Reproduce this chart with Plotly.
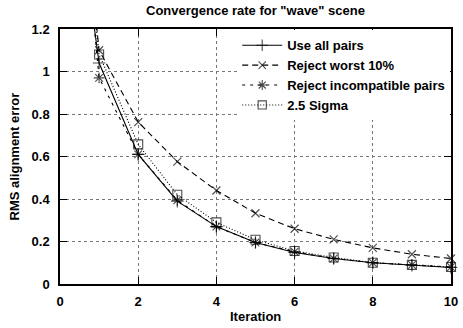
import plotly.graph_objects as go

iterations = [0, 1, 2, 3, 4, 5, 6, 7, 8, 9, 10]
use_all_pairs = [2.4, 1.04, 0.61, 0.39, 0.27, 0.195, 0.148, 0.12, 0.10, 0.088, 0.078]
reject_worst = [2.9, 1.10, 0.762, 0.576, 0.44, 0.333, 0.26, 0.21, 0.17, 0.14, 0.12]
reject_incompatible = [2.9, 0.97, 0.61, 0.394, 0.27, 0.195, 0.152, 0.12, 0.10, 0.09, 0.08]
sigma_25 = [2.8, 1.08, 0.657, 0.42, 0.29, 0.208, 0.155, 0.125, 0.10, 0.09, 0.08]

series_names = ["Use all pairs", "Reject worst 10%", "Reject incompatible pairs", "2.5 Sigma"]
x_ticks = [0, 2, 4, 6, 8, 10]
y_ticks = [0, 0.2, 0.4, 0.6, 0.8, 1, 1.2]

FONT = "Liberation Sans, Arial, sans-serif"
styles = [
    ("solid", "cross-thin", 9),
    ("6px,4px", "x-thin", 8),
    ("3px,5px", "asterisk", 9),
    ("1px,2px", "square-open", 9),
]

fig = go.Figure()
for name, ys, (dash, sym, sz) in zip(series_names,
                                     [use_all_pairs, reject_worst, reject_incompatible, sigma_25],
                                     styles):
    sizes = [0] + [sz] * (len(iterations) - 1)
    fig.add_trace(go.Scatter(
        x=iterations, y=ys, name=name, mode="lines+markers",
        line=dict(color="black", width=1.1, dash=dash),
        marker=dict(symbol=sym, size=sizes, color="black",
                    line=dict(color="black", width=1.1)),
        cliponaxis=False,
    ))

axis_common = dict(
    showline=True, linecolor="black", linewidth=1.5, mirror="ticks",
    ticks="inside", ticklen=7, tickcolor="black", tickwidth=1,
    showgrid=True, gridcolor="#777", griddash="dot", gridwidth=1,
    zeroline=False, ticklabeloverflow="allow",
    tickfont=dict(family=FONT, size=13, color="black", weight="bold"),
)

fig.update_layout(
    width=463, height=328,
    margin=dict(l=60, r=5, t=29, b=44),
    paper_bgcolor="white", plot_bgcolor="white",
    title=dict(text='Convergence rate for "wave" scene', x=0.5, xref="paper",
               y=0.968, yref="container", yanchor="middle",
               font=dict(family=FONT, size=13, color="black", weight="bold")),
    xaxis=dict(range=[0, 10], tickvals=x_ticks, ticklabelstandoff=5, **axis_common),
    yaxis=dict(range=[0, 1.2], tickvals=y_ticks, ticklabelstandoff=6, **axis_common),
    showlegend=True,
    legend=dict(x=0.998, xanchor="right", y=0.995, yanchor="top",
                bgcolor="white", borderwidth=0, tracegroupgap=0,
                itemwidth=40,
                font=dict(family=FONT, size=13, color="black", weight="bold")),
    annotations=[
        dict(text="Iteration", xref="paper", yref="paper", x=0.5, y=0,
             yshift=-32, xanchor="center", yanchor="middle", showarrow=False,
             font=dict(family=FONT, size=13, color="black", weight="bold")),
        dict(text="RMS alignment error", xref="paper", yref="paper", x=0, y=0.5,
             xshift=-46, textangle=-90, xanchor="center", yanchor="middle",
             showarrow=False,
             font=dict(family=FONT, size=13, color="black", weight="bold")),
    ],
)

fig.write_html("out.html")
